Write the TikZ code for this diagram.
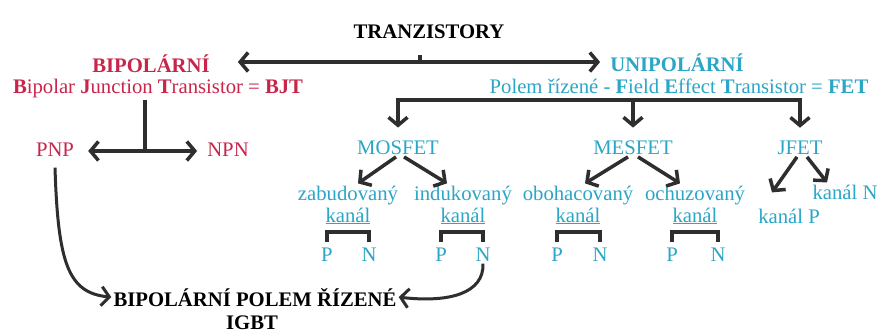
\documentclass[tikz,border=0pt]{standalone}
\usepackage{fontspec}
\setmainfont{Liberation Serif}
\usepackage{xcolor}
\usetikzlibrary{arrows.meta}

\definecolor{bipred}{HTML}{C8254A}
\definecolor{unicyan}{HTML}{2BA6C6}
\definecolor{ink}{HTML}{2E2E2E}

\begin{document}
\begin{tikzpicture}[x=1pt,y=1pt,
    every node/.style={anchor=base,inner sep=2pt,font=\fontsize{20.7}{22}\selectfont},
    bipol/.style={text=bipred},
    unipol/.style={text=unicyan},
    bar/.style={draw=ink,line width=3.5pt},
    arr/.style={bar,>={Straight Barb[length=8pt,width=19pt]}}]
    \useasboundingbox[fill=white] (0,0) rectangle (877,333);

    % headings
    \node (tranz) at (429,294.5) {\textbf{TRANZISTORY}};
    \node[bipol] (bip) at (151,261) {\textbf{BIPOLÁRNÍ}};
    \node[bipol] (bjt) at (158,240) {\textbf{B}ipolar \textbf{J}unction \textbf{T}ransistor = \textbf{BJT}};
    \node[unipol] (unip) at (677,262) {\textbf{UNIPOLÁRNÍ}};
    \node[unipol] (fet) at (679,240) {Polem řízené - \textbf{F}ield \textbf{E}ffect \textbf{T}ransistor = \textbf{FET}};
    \coordinate (tranzsplit) at (420,271);
    \draw[bar] (tranzsplit) -- ++(0,7);
    \draw[arr,<->] ([xshift=26pt]bip.east |- tranzsplit) -- ([xshift=-8pt]unip.west |- tranzsplit);

    % bipolar branch
    \node[bipol] (pnp) at (55,176.5) {PNP};
    \node[bipol] (npn) at (228,176.5) {NPN};
    \coordinate (bjtsplit) at (145,182);
    \draw[bar] (bjt.south -| bjtsplit) -- (bjtsplit);
    \draw[arr,<->] ([xshift=12pt]pnp.east |- bjtsplit) -- ([xshift=-8pt]npn.west |- bjtsplit);

    % unipolar branch
    \node[unipol] (mosfet) at (398,178.5) {MOSFET};
    \node[unipol] (mesfet) at (633,178.5) {MESFET};
    \node[unipol] (jfet) at (800,178.5) {JFET};
    \coordinate (fetbar) at (633,233);
    \draw[bar,line cap=rect] (mosfet.north |- fetbar) -- (jfet.north |- fetbar);
    \foreach \fet in {mosfet,mesfet,jfet}
        \draw[arr,->] (\fet.north |- fetbar) -- ([yshift=11pt]\fet.north);

    \node[unipol] (zab) at (348,133) {zabudovaný};
    \node[unipol] (zabk) at (348,111) {\underline{kanál}};
    \node[unipol] (ind) at (463,133) {indukovaný};
    \node[unipol] (indk) at (463,111) {\underline{kanál}};
    \node[unipol] (obo) at (578,133) {obohacovaný};
    \node[unipol] (obok) at (578,111) {\underline{kanál}};
    \node[unipol] (och) at (695,133) {ochuzovaný};
    \node[unipol] (ochk) at (695,111) {\underline{kanál}};
    \node[unipol] (kanalN) at (845,134) {kanál N};
    \node[unipol] (kanalP) at (789,110) {kanál P};

    \draw[arr,->] ([xshift=-2pt]mosfet.south) -- ([xshift=10pt]zab.north);
    \draw[arr,->] ([xshift=6pt]mosfet.south) -- ([xshift=-16pt]ind.north);
    \draw[arr,->] ([xshift=-5pt]mesfet.south) -- ([xshift=7pt]obo.north);
    \draw[arr,->] ([xshift=5pt]mesfet.south) -- ([xshift=-15pt]och.north);
    \draw[arr,->] ([xshift=-3pt]jfet.south) -- ([xshift=-17pt,yshift=14pt]kanalP.north);
    \draw[arr,->] ([xshift=7pt]jfet.south) -- ([xshift=-18pt]kanalN.north);

    % P / N pairs under each channel
    \foreach \ch/\xp/\xn in {zab/327/369, ind/441/483, obo/557/600, och/672/718} {
        \node[unipol] (\ch P) at (\xp,71.5) {P};
        \node[unipol] (\ch N) at (\xn,71.5) {N};
        \draw[bar] ([yshift=4pt]\ch P.north) -- ++(0,9.5) -| ([yshift=4pt]\ch N.north);
    }

    % IGBT
    \node (igbt) at (255,27) {\textbf{BIPOLÁRNÍ POLEM ŘÍZENÉ}};
    \node (igbtabbr) at (252,3.5) {\textbf{IGBT}};
    \draw[arr,->,line width=3pt] ([yshift=-9pt]pnp.south) .. controls (58,70) and (68,40) .. (igbt.west);
    \draw[arr,->,line width=3pt] (indN.south) .. controls (484,40) and (450,30) .. (igbt.east);
\end{tikzpicture}
\end{document}
